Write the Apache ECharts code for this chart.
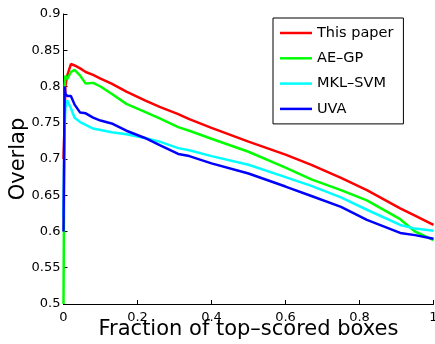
<!DOCTYPE html>
<html>
<head>
<meta charset="utf-8">
<script src="https://cdn.jsdelivr.net/npm/echarts@6/dist/echarts.min.js"></script>
<style>html,body{margin:0;padding:0;background:#fff;}#c{width:435px;height:344px;}</style>
</head>
<body>
<div id="c"></div>
<script>
const seriesNames = ['This paper', 'AE–GP', 'MKL–SVM', 'UVA'];
const fractions = [0, 0.003, 0.005, 0.01, 0.02, 0.03, 0.045, 0.06, 0.08, 0.1, 0.13, 0.17, 0.22, 0.26, 0.31, 0.34, 0.4, 0.5, 0.6, 0.67, 0.75, 0.82, 0.91, 0.95, 1.0];
const thisPaper = [0.70, 0.75, 0.80, 0.815, 0.831, 0.829, 0.825, 0.820, 0.816, 0.811, 0.804, 0.793, 0.781, 0.772, 0.762, 0.755, 0.743, 0.724, 0.706, 0.692, 0.674, 0.657, 0.632, 0.622, 0.609];
const aeGp = [0.50, 0.80, 0.815, 0.810, 0.820, 0.823, 0.815, 0.804, 0.805, 0.800, 0.790, 0.776, 0.765, 0.756, 0.744, 0.739, 0.728, 0.710, 0.688, 0.672, 0.657, 0.643, 0.617, 0.600, 0.588];
const mklSvm = [0.62, 0.74, 0.770, 0.781, 0.770, 0.757, 0.751, 0.747, 0.742, 0.740, 0.737, 0.734, 0.729, 0.724, 0.715, 0.712, 0.704, 0.692, 0.675, 0.663, 0.647, 0.630, 0.609, 0.604, 0.601];
const uva = [0.60, 0.80, 0.790, 0.787, 0.787, 0.775, 0.764, 0.763, 0.757, 0.753, 0.749, 0.739, 0.729, 0.719, 0.707, 0.704, 0.694, 0.680, 0.662, 0.649, 0.634, 0.616, 0.598, 0.595, 0.590];
const xTickLabels = ['0', '0.2', '0.4', '0.6', '0.8', '1'];
const yTickLabels = ['0.5', '0.55', '0.6', '0.65', '0.7', '0.75', '0.8', '0.85', '0.9'];
const colors = ['#ff0000', '#00ff00', '#00ffff', '#0000ff'];

const allValues = [thisPaper, aeGp, mklSvm, uva];
const font = 'DejaVu Sans';
const chart = echarts.init(document.getElementById('c'), null, {renderer: 'canvas'});
chart.setOption({
  animation: false,
  backgroundColor: '#fff',
  grid: {left: 63.5, right: 1.5, top: 14, bottom: 40, containLabel: false, outerBoundsMode: 'none'},
  legend: {
    orient: 'vertical',
    left: 273, top: 18,
    padding: [7, 10, 7, 7],
    borderColor: '#000', borderWidth: 1,
    backgroundColor: '#fff',
    icon: 'rect',
    itemWidth: 32, itemHeight: 2.5,
    itemGap: 9.3,
    data: seriesNames,
    textStyle: {fontFamily: font, fontSize: 14.5, color: '#000', lineHeight: 16}
  },
  xAxis: {
    type: 'value', min: 0, max: 1, interval: 0.2,
    name: 'Fraction of top–scored boxes', nameLocation: 'middle', nameGap: 15,
    nameMoveOverlap: false,
    nameTextStyle: {fontFamily: font, fontSize: 21, color: '#000'},
    axisLine: {show: true, lineStyle: {color: '#000', width: 1}},
    axisTick: {show: true, inside: true, length: 4, lineStyle: {color: '#000'}},
    axisLabel: {fontFamily: font, fontSize: 13, color: '#000', margin: 7, hideOverlap: false,
      formatter: (v) => xTickLabels[Math.round(v / 0.2)]},
    splitLine: {show: false}
  },
  yAxis: {
    type: 'value', min: 0.5, max: 0.9, interval: 0.05,
    name: 'Overlap', nameLocation: 'middle', nameGap: 34,
    nameMoveOverlap: false,
    nameTextStyle: {fontFamily: font, fontSize: 21, color: '#000'},
    axisLine: {show: true, lineStyle: {color: '#000', width: 1}},
    axisTick: {show: true, inside: true, length: 4, lineStyle: {color: '#000'}},
    axisLabel: {fontFamily: font, fontSize: 13, color: '#000', margin: 3, hideOverlap: false,
      formatter: (v) => yTickLabels[Math.round((v - 0.5) / 0.05)]},
    splitLine: {show: false}
  },
  series: seriesNames.map((name, i) => ({
    name: name,
    type: 'line',
    showSymbol: false,
    symbol: 'none',
    color: colors[i],
    lineStyle: {width: 2.5, color: colors[i]},
    data: fractions.map((f, j) => [f, allValues[i][j]])
  }))
});
</script>
</body>
</html>
